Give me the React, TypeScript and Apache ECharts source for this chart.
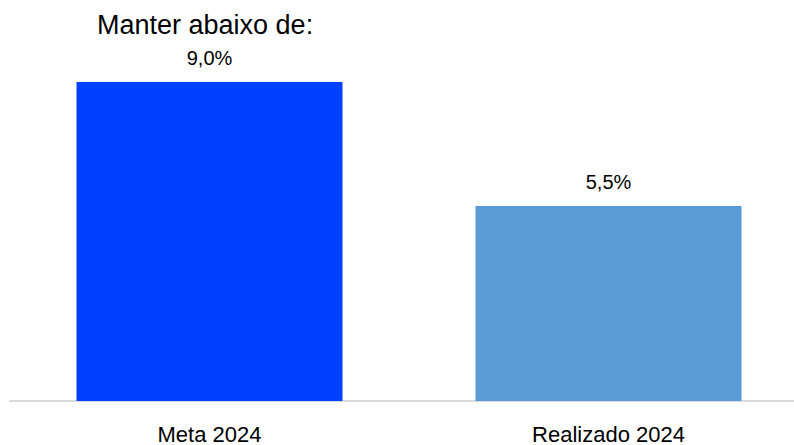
import React, { useEffect, useRef } from "react";
import * as echarts from "echarts";

const categories: string[] = ["Meta 2024", "Realizado 2024"];
const values: number[] = [9.0, 5.5];
const barColors: string[] = ["#0040FF", "#5B9BD5"];
const titleText = "Manter abaixo de:";

const FONT = "'Liberation Sans', Arial, sans-serif";

export default function App() {
  const ref = useRef<HTMLDivElement>(null);
  useEffect(() => {
    if (!ref.current) return;
    const chart = echarts.init(ref.current, null, { renderer: "svg" });
    chart.setOption({
      animation: false,
      backgroundColor: "#ffffff",
      grid: { left: 10, right: 0, top: 82, bottom: 41, containLabel: false },
      xAxis: {
        type: "category",
        data: categories,
        axisLine: { show: true, lineStyle: { color: "#d9d9d9", width: 2 } },
        axisTick: { show: false },
        axisLabel: { color: "#000000", fontSize: 22, fontFamily: FONT, margin: 22 },
      },
      yAxis: {
        type: "value",
        min: 0,
        max: 9,
        show: false,
        splitLine: { show: false },
      },
      series: [
        {
          type: "bar",
          barWidth: 266,
          data: values.map((v, i) => ({ value: v, itemStyle: { color: barColors[i] } })),
          label: {
            show: true,
            position: "top",
            distance: 14,
            color: "#000000",
            fontSize: 20,
            fontFamily: FONT,
            formatter: (p: any) => p.value.toFixed(1).replace(".", ",") + "%",
          },
        },
      ],
      graphic: [
        {
          type: "text",
          left: 97,
          top: 11,
          style: {
            text: titleText,
            fill: "#000000",
            fontSize: 27,
            fontFamily: FONT,
          },
        },
      ],
    });
    return () => chart.dispose();
  }, []);
  return (
    <div
      style={{
        position: "absolute",
        left: 0,
        top: 0,
        width: 794,
        height: 445,
        overflow: "hidden",
        background: "#ffffff",
      }}
    >
      <div ref={ref} style={{ position: "absolute", left: 0, top: 0, width: 808, height: 445 }} />
    </div>
  );
}
